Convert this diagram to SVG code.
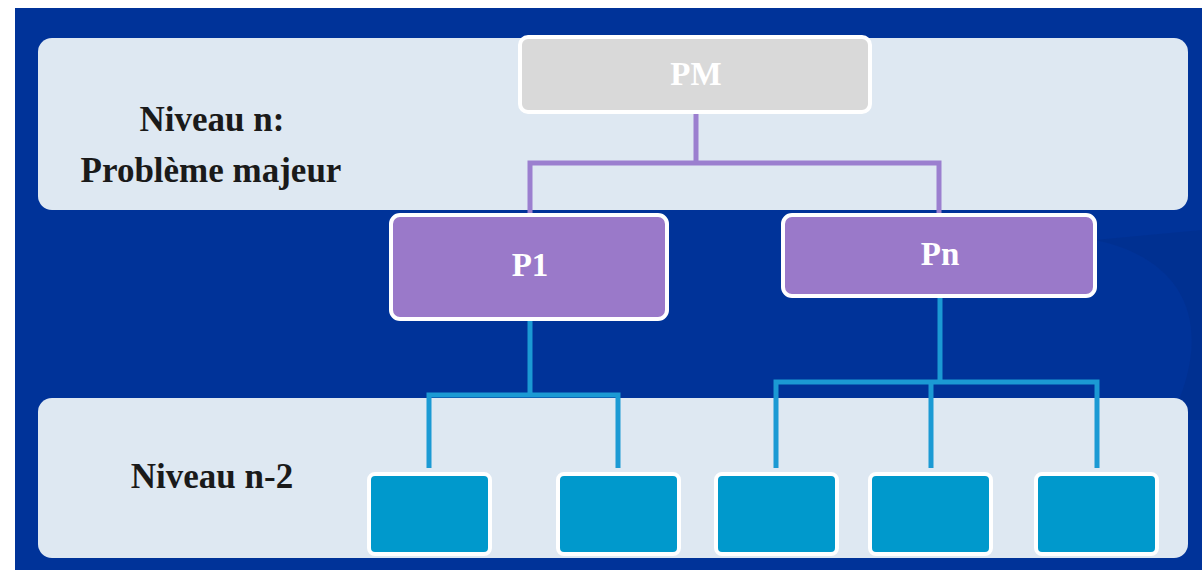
<svg xmlns="http://www.w3.org/2000/svg" width="1202" height="575" viewBox="0 0 1202 575">
<style>
.panel{fill:#dee8f2;}
.lbl{font-family:"Liberation Serif",serif;font-weight:bold;font-size:35px;fill:#1a1a1a;text-anchor:middle;}
.ntxt{font-family:"Liberation Serif",serif;font-weight:bold;font-size:33px;fill:#ffffff;text-anchor:middle;}
.pbox{fill:#9a79c9;stroke:#ffffff;stroke-width:4;}
.sbox{fill:#0099cc;stroke:#ffffff;stroke-width:4;}
.pc{fill:none;stroke:#9b7fcf;stroke-width:5;}
.bc{fill:none;stroke:#1b9ad4;stroke-width:5;}
</style>
<rect x="0" y="0" width="1202" height="575" fill="#ffffff"/>
<rect x="15" y="8" width="1187" height="562" fill="#003399"/>
<path d="M1095,240 C1190,260 1215,330 1170,420 L1202,420 L1202,230 Z" fill="#002f8c" opacity="0.6"/>
<g id="panel-top">
<rect class="panel" x="38" y="38" width="1150" height="172" rx="14"/>
<text class="lbl" x="212" y="131">Niveau n:</text>
<text class="lbl" x="211" y="182">Problème majeur</text>
</g>
<g id="panel-bottom">
<rect class="panel" x="38" y="398" width="1150" height="160" rx="14"/>
<text class="lbl" x="212" y="488">Niveau n-2</text>
</g>
<g id="connectors">
<path class="pc" d="M696,112 V163 M530,215 V163 H939 V215"/>
<path class="bc" d="M530,318 V395 M429,468 V395 H618 V468"/>
<path class="bc" d="M940,297 V382 M776,468 V382 H1097 V468 M931,382 V468"/>
</g>
<g id="node-PM">
<rect x="520" y="37" width="350" height="75" rx="8" fill="#d9d9d9" stroke="#ffffff" stroke-width="4"/>
<text class="ntxt" x="696" y="85">PM</text>
</g>
<g id="node-P1">
<rect class="pbox" x="391" y="215" width="276" height="104" rx="9"/>
<text class="ntxt" x="530" y="276">P1</text>
</g>
<g id="node-Pn">
<rect class="pbox" x="783" y="215" width="312" height="81" rx="9"/>
<text class="ntxt" x="940" y="265">Pn</text>
</g>
<g id="node-c1"><rect class="sbox" x="369" y="474" width="121" height="80" rx="6"/></g>
<g id="node-c2"><rect class="sbox" x="558" y="474" width="121" height="80" rx="6"/></g>
<g id="node-c3"><rect class="sbox" x="716" y="474" width="121" height="80" rx="6"/></g>
<g id="node-c4"><rect class="sbox" x="870" y="474" width="121" height="80" rx="6"/></g>
<g id="node-c5"><rect class="sbox" x="1036" y="474" width="121" height="80" rx="6"/></g>
</svg>
